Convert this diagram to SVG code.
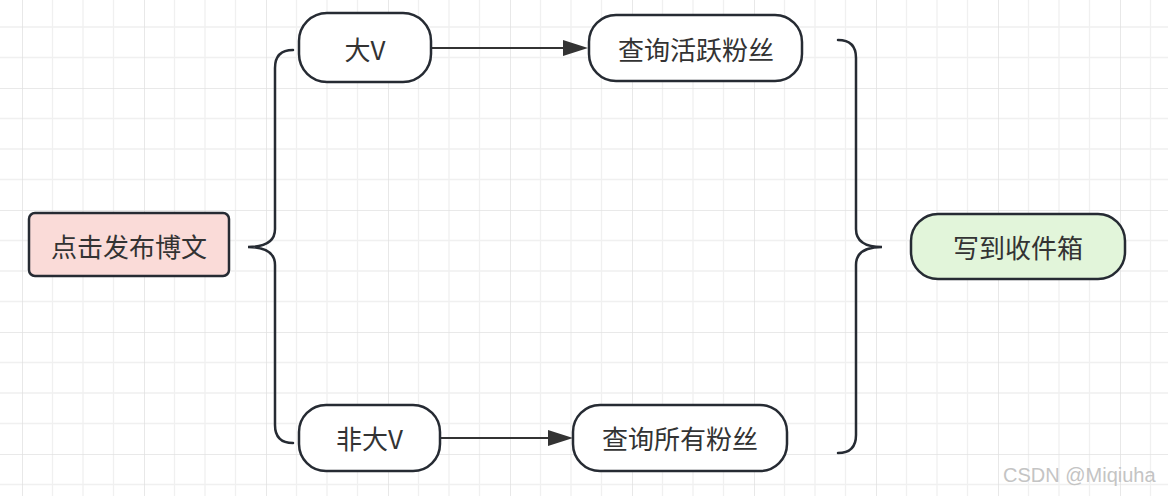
<svg xmlns="http://www.w3.org/2000/svg" width="1168" height="496" viewBox="0 0 1168 496">
  <style>
    .node { stroke: #262b33; stroke-width: 2.5; }
    .plain { fill: #ffffff; }
    .label { font-family: "Noto Sans CJK SC", "Noto Sans", sans-serif; font-size: 26px; fill: #333333; text-anchor: middle; dominant-baseline: central; }
    .edge { stroke: #333333; stroke-width: 2.2; fill: none; }
    .brace { stroke: #262b33; stroke-width: 2.5; fill: none; stroke-linecap: round; }
    .wm { font-family: "Liberation Sans", Arial, sans-serif; font-size: 20px; fill: #c4c4c4; }
  </style>
  <defs>
    <pattern id="grid" x="22" y="88" width="122" height="122" patternUnits="userSpaceOnUse">
      <path d="M30.5,0 V122 M61,0 V122 M91.5,0 V122 M0,30.5 H122 M0,61 H122 M0,91.5 H122" stroke="#f0f0f0" stroke-width="1.3" fill="none"/>
      <path d="M0,0 V122 M0,0 H122" stroke="#e2e2e2" stroke-width="1.6" fill="none"/>
    </pattern>
    <marker id="arrow" markerUnits="userSpaceOnUse" markerWidth="26" markerHeight="17" refX="7" refY="8" orient="auto">
      <path d="M0,0 L25,8 L0,16 Z" fill="#333333"/>
    </marker>
  </defs>
  <rect x="0" y="0" width="1168" height="496" fill="#ffffff"/>
  <rect x="0" y="0" width="1168" height="496" fill="url(#grid)"/>

  <g id="connectors">
    <path class="brace" d="M293,50 Q275,50 275,68 L275,229 Q275,247 248,247 Q275,247 275,265 L275,425 Q275,443 293,443"/>
    <path class="brace" d="M838,40 Q856,40 856,58 L856,229 Q856,247 882,247 Q856,247 856,265 L856,435 Q856,453 838,453"/>
    <path class="edge" d="M431,48 L570,48" marker-end="url(#arrow)"/>
    <path class="edge" d="M440,438 L555,438" marker-end="url(#arrow)"/>
  </g>

  <g id="node-publish">
    <rect class="node" x="29" y="213" width="200" height="63" rx="6" fill="#fadbd8"/>
    <text class="label" x="129" y="245">点击发布博文</text>
  </g>
  <g id="node-bigv">
    <rect class="node plain" x="299" y="13" width="132" height="69" rx="28"/>
    <text class="label" x="365" y="48">大V</text>
  </g>
  <g id="node-active">
    <rect class="node plain" x="589" y="15" width="213" height="66" rx="27"/>
    <text class="label" x="696" y="48">查询活跃粉丝</text>
  </g>
  <g id="node-nonbigv">
    <rect class="node plain" x="299" y="405" width="141" height="66" rx="27"/>
    <text class="label" x="369.5" y="437">非大V</text>
  </g>
  <g id="node-all">
    <rect class="node plain" x="573" y="405" width="214" height="66" rx="27"/>
    <text class="label" x="680" y="437">查询所有粉丝</text>
  </g>
  <g id="node-inbox">
    <rect class="node" x="911" y="214" width="214" height="65" rx="27" fill="#e2f5da"/>
    <text class="label" x="1018" y="246">写到收件箱</text>
  </g>

  <text class="wm" x="1003" y="482">CSDN @Miqiuha</text>
</svg>
